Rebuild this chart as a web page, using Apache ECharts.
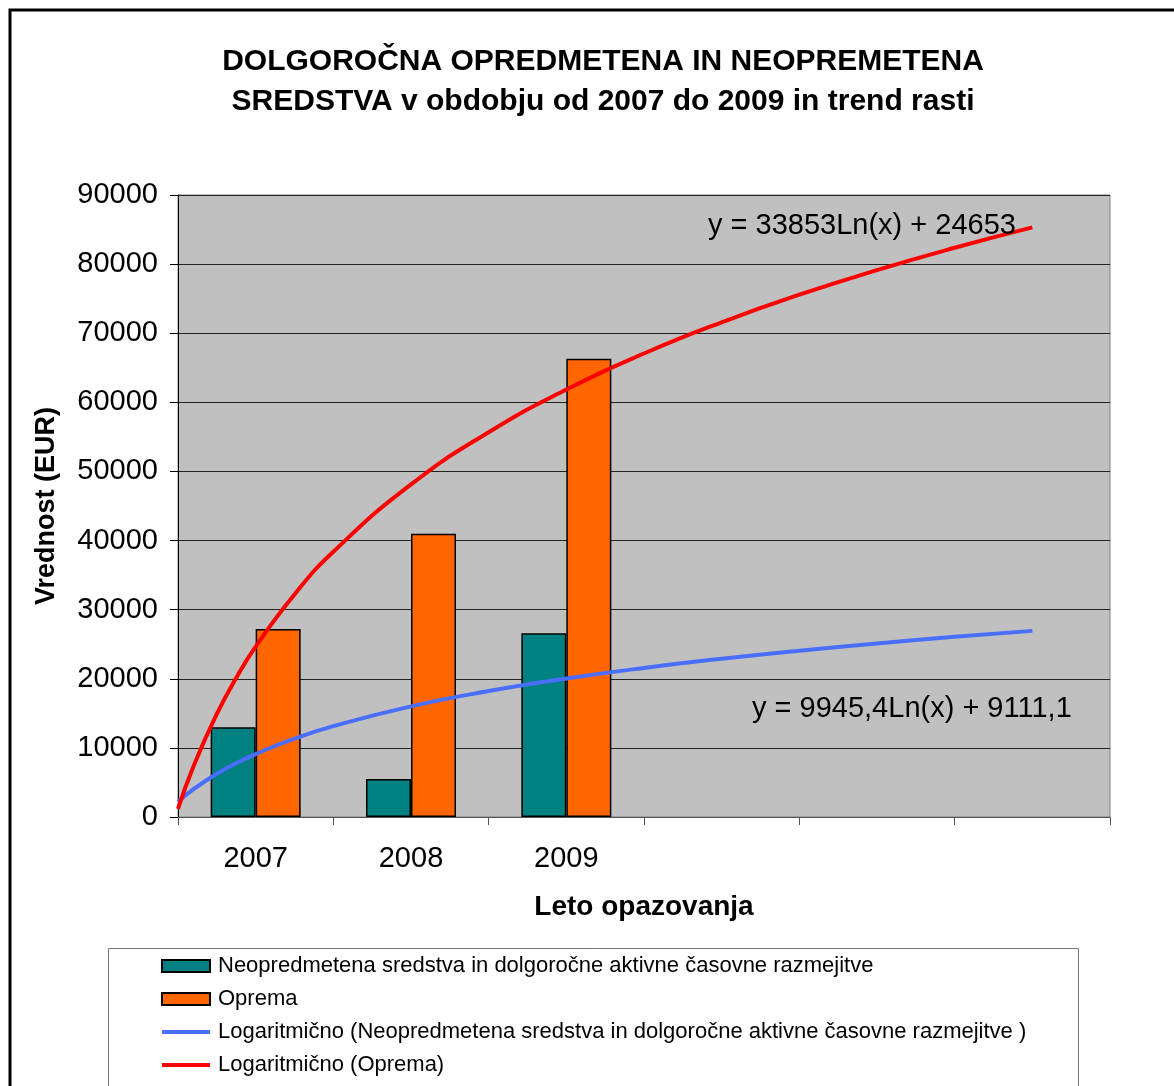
<!DOCTYPE html>
<html>
<head>
<meta charset="utf-8">
<script src="https://cdn.jsdelivr.net/npm/echarts@6/dist/echarts.min.js"></script>
<style>
html,body{margin:0;padding:0;background:#fff;}
#c{width:1174px;height:1086px;}
</style>
</head>
<body>
<div id="c"></div>
<script>
// ---- data ----
const categories = ['2007', '2008', '2009', '', '', ''];
const neoValues = [13000, 5500, 26600];
const opremaValues = [27200, 41000, 66300];
const yTicks = [0, 10000, 20000, 30000, 40000, 50000, 60000, 70000, 80000, 90000];
// trend curves (x = category position, 1 = 2007)
const trendX = [0.5, 0.6, 0.75, 0.875, 1, 1.25, 1.5, 2, 2.5, 3, 3.5, 4, 4.5, 5, 5.5, 6];
const trendOprema = [1188, 7360, 14914, 20133, 24653, 32207, 38380, 48118, 55673, 61844, 67064, 71583, 75571, 79137, 82363, 85310];
const trendNeo = [2217, 4031, 6250, 7783, 9111, 11330, 13144, 16005, 18224, 20037, 21570, 22898, 24070, 25117, 26065, 26931];
const eqOprema = 'y = 33853Ln(x) + 24653';
const eqNeo = 'y = 9945,4Ln(x) + 9111,1';
const nameNeo = 'Neopredmetena sredstva in dolgoročne aktivne časovne razmejitve';
const nameOprema = 'Oprema';
const nameTrendNeo = 'Logaritmično (Neopredmetena sredstva in dolgoročne aktivne časovne razmejitve )';
const nameTrendOprema = 'Logaritmično (Oprema)';

const FONT = '"Liberation Sans", Arial, sans-serif';
const chart = echarts.init(document.getElementById('c'), null, {renderer: 'canvas'});

const pair = (xs, ys) => xs.map((x, i) => [x, ys[i]]);
const hiddenSymbol = {color: 'rgba(0,0,0,0)', borderWidth: 0, borderColor: 'rgba(0,0,0,0)'};

chart.setOption({
  animation: false,
  backgroundColor: '#fff',
  textStyle: {fontFamily: FONT},
  title: {
    text: 'DOLGOROČNA OPREDMETENA IN NEOPREMETENA\nSREDSTVA v obdobju od 2007 do 2009 in trend rasti',
    left: 603, top: 42, textAlign: 'center', padding: 0,
    textStyle: {fontFamily: FONT, fontSize: 30, fontWeight: 'bold', color: '#000', lineHeight: 40}
  },
  grid: {
    left: 178, right: 64, top: 195, bottom: 269,
    show: true, backgroundColor: '#c0c0c0', borderColor: '#808080', borderWidth: 1
  },
  legend: {
    orient: 'vertical', left: 160, top: 955, padding: 0,
    itemWidth: 48, itemHeight: 12, itemGap: 11,
    textStyle: {fontFamily: FONT, fontSize: 22, color: '#000', lineHeight: 22, padding: [0, 0, 0, 3]},
    data: [
      {name: nameNeo, icon: 'rect'},
      {name: nameOprema, icon: 'rect'},
      {name: nameTrendNeo, itemStyle: hiddenSymbol, lineStyle: {width: 4}},
      {name: nameTrendOprema, itemStyle: hiddenSymbol, lineStyle: {width: 4}}
    ]
  },
  xAxis: [{
    type: 'category', data: categories, boundaryGap: true,
    name: 'Leto opazovanja', nameLocation: 'middle', nameGap: 76,
    nameTextStyle: {fontFamily: FONT, fontSize: 28, fontWeight: 'bold', color: '#000'},
    axisLine: {lineStyle: {color: '#555', width: 1}},
    axisTick: {show: true, length: 8, lineStyle: {color: '#555'}},
    axisLabel: {fontFamily: FONT, fontSize: 29, color: '#000', margin: 27},
    splitLine: {show: false}
  }, {
    type: 'value', min: 0.5, max: 6.5, show: false
  }],
  yAxis: {
    type: 'value', min: 0, max: 90000, interval: 10000,
    name: 'Vrednost (EUR)', nameLocation: 'middle', nameGap: 118, nameRotate: 90,
    nameTextStyle: {fontFamily: FONT, fontSize: 27, fontWeight: 'bold', color: '#000'},
    axisLine: {show: true, lineStyle: {color: '#000', width: 1}},
    axisTick: {show: true, length: 8, lineStyle: {color: '#000'}},
    axisLabel: {fontFamily: FONT, fontSize: 29, color: '#000', margin: 20, formatter: v => String(v)},
    splitLine: {show: true, lineStyle: {color: '#222', width: 1}}
  },
  series: [
    {
      name: nameNeo, type: 'bar', data: neoValues, barWidth: 45, barGap: '0%',
      itemStyle: {color: '#008080', borderColor: '#000', borderWidth: 1.5}, z: 2
    },
    {
      name: nameOprema, type: 'bar', data: opremaValues, barWidth: 45, barGap: '0%',
      itemStyle: {color: '#ff6600', borderColor: '#000', borderWidth: 1.5}, z: 2
    },
    {
      name: nameTrendNeo, type: 'line', xAxisIndex: 1, data: pair(trendX, trendNeo),
      smooth: true, symbol: 'none', lineStyle: {color: '#4a6eff', width: 4}, itemStyle: {color: '#4a6eff'}, z: 3
    },
    {
      name: nameTrendOprema, type: 'line', xAxisIndex: 1, data: pair(trendX, trendOprema),
      smooth: true, symbol: 'none', lineStyle: {color: '#ff0000', width: 4}, itemStyle: {color: '#ff0000'}, z: 3
    }
  ],
  graphic: [
    {type: 'rect', shape: {x: 10, y: 10, width: 1200, height: 1200}, style: {fill: 'none', stroke: '#000', lineWidth: 3}, silent: true, z: 0},
    {type: 'rect', shape: {x: 108.5, y: 948.5, width: 970, height: 200}, style: {fill: 'none', stroke: '#777', lineWidth: 1}, silent: true, z: 0},
    {type: 'text', left: 708, top: 211, style: {text: eqOprema, font: '29px ' + FONT, fill: '#000'}, z: 10},
    {type: 'text', left: 752, top: 694, style: {text: eqNeo, font: '29px ' + FONT, fill: '#000'}, z: 10}
  ]
});
</script>
</body>
</html>
